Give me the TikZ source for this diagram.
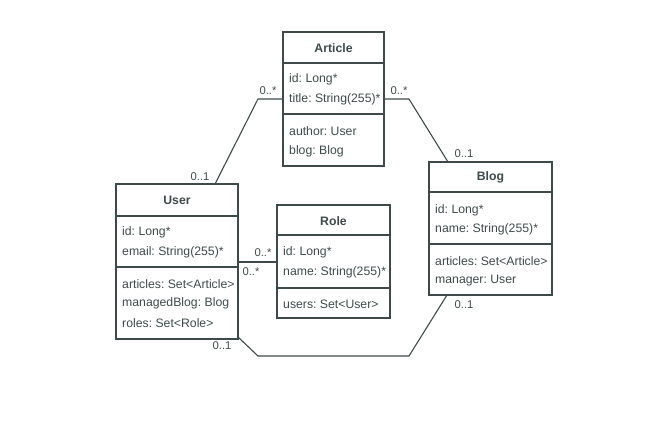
\documentclass[tikz,border=0pt]{standalone}
\usepackage{fontspec}
\setmainfont{Liberation Sans}
\usetikzlibrary{calc}
\definecolor{ln}{HTML}{3E4A4A}
\frenchspacing
\begin{document}
\begin{tikzpicture}[x=1bp,y=-1bp,
  box/.style={draw=ln, line width=1.1bp, inner sep=0pt, outer sep=0pt, anchor=north west},
  ttl/.style={font=\fontsize{12.3}{14}\selectfont\bfseries\frenchspacing, text=ln, inner sep=0pt},
  attr/.style={font=\fontsize{12.3}{14}\selectfont\frenchspacing, text=ln, anchor=west, inner sep=0pt},
  mult/.style={font=\fontsize{11.3}{13}\selectfont, text=ln, inner sep=0pt},
  conn/.style={draw=ln, line width=1.1bp}]
\useasboundingbox (0,0) rectangle (670,425);

% Article
\node[box, minimum width=101bp, minimum height=134bp] (article) at (283,32) {};
\draw[conn] (283,63) -- (384,63);
\draw[conn] (283,114) -- (384,114);
\node[ttl] (articleT) at (333.5,48) {Article};
\node[attr] (a1) at (289,79.5) {id: Long*};
\node[attr] (a2) at (289,99) {title: String(255)*};
\node[attr] (a3) at (289,131) {author: User};
\node[attr] (a4) at (289,151) {blog: Blog};

% User
\node[box, minimum width=122bp, minimum height=155bp] (user) at (116,184) {};
\draw[conn] (116,216) -- (238,216);
\draw[conn] (116,267) -- (238,267);
\node[ttl] (userT) at (177,200.5) {User};
\node[attr] (u1) at (122,232.5) {id: Long*};
\node[attr] (u2) at (122,252) {email: String(255)*};
\node[attr] (u3) at (122,284) {articles: Set<Article>};
\node[attr] (u4) at (122,303.5) {managedBlog: Blog};
\node[attr] (u5) at (122,323) {roles: Set<Role>};

% Role
\node[box, minimum width=113bp, minimum height=113bp] (role) at (277,205) {};
\draw[conn] (277,235) -- (390,235);
\draw[conn] (277,288) -- (390,288);
\node[ttl] (roleT) at (333.5,221) {Role};
\node[attr] (r1) at (283,252.5) {id: Long*};
\node[attr] (r2) at (283,272) {name: String(255)*};
\node[attr] (r3) at (283,304) {users: Set<User>};

% Blog
\node[box, minimum width=123bp, minimum height=133bp] (blog) at (429,162) {};
\draw[conn] (429,192) -- (552,192);
\draw[conn] (429,244) -- (552,244);
\node[ttl] (blogT) at (490.5,177.5) {Blog};
\node[attr] (b1) at (435,210) {id: Long*};
\node[attr] (b2) at (435,229.5) {name: String(255)*};
\node[attr] (b3) at (435,261) {articles: Set<Article>};
\node[attr] (b4) at (435,281) {manager: User};

% connectors
\coordinate (c1) at (258,99);
\coordinate (c2) at (409,99);
\coordinate (c3) at (258,356);
\coordinate (c4) at (409,356);
\draw[conn] ($(article.north west)+(0,67)$) -- (c1) -- ($(user.north west)+(99,0)$);
\draw[conn] ($(article.north east)+(0,67)$) -- (c2) -- ($(blog.north west)+(19,0)$);
\draw[conn] ($(user.north east)+(0,78)$) -- ($(role.north west)+(0,57)$);
\draw[conn] ($(user.south east)+(0,-2)$) -- (c3) -- (c4) -- ($(blog.south west)+(18,0)$);

% multiplicities
\node[mult] (m1) at (268,90.5) {0..*};
\node[mult] (m2) at (200,176.5) {0..1};
\node[mult] (m3) at (399,90.5) {0..*};
\node[mult] (m4) at (464,153.5) {0..1};
\node[mult] (m5) at (263,252.5) {0..*};
\node[mult] (m6) at (251,271.5) {0..*};
\node[mult] (m7) at (222,345.5) {0..1};
\node[mult] (m8) at (464,304.5) {0..1};
\end{tikzpicture}
\end{document}
